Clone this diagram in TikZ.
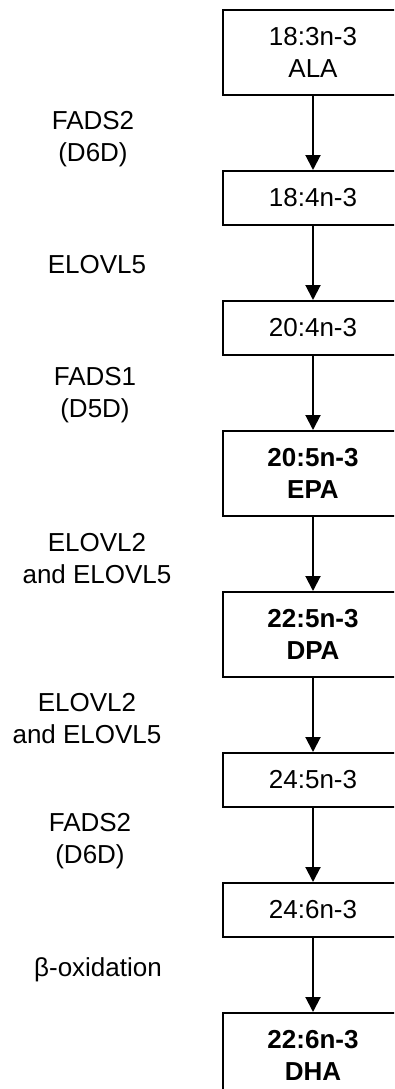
\documentclass[tikz,border=0pt]{standalone}
\usepackage{fontspec}
\setmainfont{Liberation Sans}
\usetikzlibrary{arrows.meta,positioning}

\begin{document}
\begin{tikzpicture}[
    x=1pt, y=-1pt,
    node distance=74pt,
    font=\fontsize{26}{32}\selectfont,
    acid/.style={draw, line width=2pt, minimum width=180pt, inner sep=0pt, align=center},
    single/.style={acid, minimum height=54pt},
    double/.style={acid, minimum height=85pt},
    major/.style={double, font=\fontsize{26}{32}\selectfont\bfseries},
    enzyme/.style={align=center},
    conv/.style={-{Triangle[length=15pt,width=15pt]}, line width=2pt},
]
\useasboundingbox (0,0) rectangle (394,1089);
\clip (0,0) rectangle (394,1089);

% fatty acids
\node[double, anchor=north] (ala) at (313,9) {18:3n-3\\ALA};
\node[single, below=of ala] (sda) {18:4n-3};
\node[single, below=of sda] (eta) {20:4n-3};
\node[major, below=of eta] (epa) {20:5n-3\\EPA};
\node[major, below=of epa] (dpa) {22:5n-3\\DPA};
\node[single, below=of dpa] (tpa) {24:5n-3};
\node[single, below=of tpa] (tha) {24:6n-3};
\node[major, below=of tha] (dha) {22:6n-3\\DHA};

% enzymes
\node[enzyme] (fads2a) at (93,139) {FADS2\\(D6D)};
\node[enzyme] (elovl5) at (97,265) {ELOVL5};
\node[enzyme] (fads1) at (95,395) {FADS1\\(D5D)};
\node[enzyme] (elovla) at (97,559) {ELOVL2\\and ELOVL5};
\node[enzyme] (elovlb) at (87,719) {ELOVL2\\and ELOVL5};
\node[enzyme] (fads2b) at (90,841) {FADS2\\(D6D)};
\node[enzyme] (betaox) at (98,970) {β-oxidation};

\draw[conv] (ala) -- (sda);
\draw[conv] (sda) -- (eta);
\draw[conv] (eta) -- (epa);
\draw[conv] (epa) -- (dpa);
\draw[conv] (dpa) -- (tpa);
\draw[conv] (tpa) -- (tha);
\draw[conv] (tha) -- (dha);
\end{tikzpicture}
\end{document}
